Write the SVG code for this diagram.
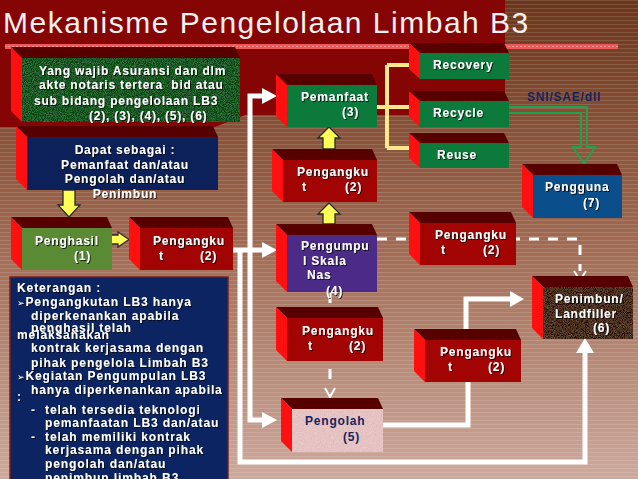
<svg xmlns="http://www.w3.org/2000/svg" width="638" height="479" viewBox="0 0 638 479">
<defs>
<linearGradient id="bg" x1="0" y1="0" x2="0" y2="1">
<stop offset="0" stop-color="#6b361b"/>
<stop offset="0.5" stop-color="#a06a52"/>
<stop offset="1" stop-color="#cda99c"/>
</linearGradient>
<pattern id="stripes" width="8" height="4" patternUnits="userSpaceOnUse">
<rect x="0" y="0" width="8" height="1" fill="#ffffff" opacity="0.13"/>
</pattern>
<pattern id="dots" width="4" height="3" patternUnits="userSpaceOnUse">
<rect x="0" y="1" width="2" height="1" fill="#ffb0b0" opacity="0.7"/>
</pattern>
<filter id="grain" x="0" y="0" width="100%" height="100%">
<feTurbulence type="fractalNoise" baseFrequency="1.1" numOctaves="2" seed="4" result="n"/>
<feColorMatrix in="n" type="matrix" values="0.33 0.33 0.33 0 0 0.33 0.33 0.33 0 0 0.33 0.33 0.33 0 0 0 0 0 0 1" result="g"/>
<feComposite in="SourceGraphic" in2="g" operator="arithmetic" k1="0" k2="1" k3="0.35" k4="-0.175" result="m"/>
<feComposite in="m" in2="SourceAlpha" operator="in"/>
</filter>
<filter id="sh" x="-5%" y="-20%" width="110%" height="140%">
<feDropShadow dx="1" dy="1" stdDeviation="0.3" flood-color="#000" flood-opacity="0.75"/>
</filter>
<style>
.side{fill:#ff1010}
.top{fill:#560000}
.green{fill:#0c7a3a}
.red{fill:#a20303}
.t{font-family:"Liberation Sans",Arial,sans-serif;font-weight:bold;font-size:12px;letter-spacing:0.8px;fill:#ffffff;filter:url(#sh)}
.k{font-family:"Liberation Sans",Arial,sans-serif;font-weight:bold;font-size:12px;letter-spacing:0.9px;fill:#ffffff;filter:url(#sh)}
.nv{fill:#14245e;filter:none}
.wl{fill:none;stroke:#ffffff;stroke-width:5}
.dl{fill:none;stroke:#ffffff;stroke-width:3;stroke-dasharray:10 9}
.ch{fill:none;stroke:#ffffff;stroke-width:2}
.ah{fill:#ffffff}
.ya{fill:#ffff55;stroke:#2a2a2a;stroke-width:1.3}
</style>
</defs>

<!-- background -->
<rect x="0" y="0" width="638" height="479" fill="url(#bg)"/>
<rect x="0" y="0" width="638" height="479" fill="url(#stripes)"/>
<polygon points="0,0 505,0 505,115 245,115 215,127 0,127" fill="#850404"/>

<!-- title -->
<text x="3" y="33" font-family="'Liberation Sans',Arial,sans-serif" font-size="30" letter-spacing="1.5" fill="#f6f0f0">Mekanisme Pengelolaan Limbah B3</text>
<rect x="5" y="44" width="613" height="5" fill="#ee5a5a"/>
<rect x="5" y="44" width="613" height="5" fill="url(#dots)"/>

<!-- connectors -->
<g id="connectors">
<path class="wl" d="M262 96 H250 V420 H262"/>
<polygon class="ah" points="262,88 277,96 262,104"/>
<polygon class="ah" points="262,412 277,420 262,428"/>
<path class="wl" d="M233 250 H262"/>
<polygon class="ah" points="262,242 277,250 262,258"/>
<path class="wl" d="M240 250 V462 H585 V352"/>
<polygon class="ah" points="576,353 585,338 594,353"/>
<path class="wl" d="M383 425 H468 V382"/>
<path class="wl" d="M466 340 V299 H510"/>
<polygon class="ah" points="510,291 524,299 510,307"/>
<path class="dl" d="M377 239 H580 V271"/>
<polyline class="ch" points="574,271 580,280 586,271"/>
<path class="dl" d="M330 293 V386"/>
<polyline class="ch" points="325,388 330,397 335,388"/>
<path d="M509 107 H587 V147 H595 L584 164 L573 147 H581 V113 H509" fill="none" stroke="#1ea34c" stroke-width="2"/>
<path d="M387 65 V148 M387 65 H410 M377 107 H410 M387 148 H410" fill="none" stroke="#ffe98a" stroke-width="4"/>
<polygon class="ya" points="329,127 340,138 335,138 335,149 323,149 323,138 318,138"/>
<polygon class="ya" points="329,203 340,214 335,214 335,224 323,224 323,214 318,214"/>
<polygon class="ya" points="69,217 80,205 75,205 75,190 63,190 63,205 58,205"/>
<polygon class="ya" points="129,239.5 118,232 118,235 106,235 106,244 118,244 118,247"/>
</g>

<text x="527" y="101" class="t nv">SNI/SAE/dll</text>

<!-- nodes -->
<g id="n-wajib">
<polygon class="top" points="11,47 235,47 240,58 22,58"/>
<polygon class="side" points="11,47 22,58 22,122 11,111"/>
<rect x="22" y="58" width="218" height="64" fill="#1e5a2a" filter="url(#grain)"/>
<text class="t" xml:space="preserve"><tspan x="39" y="75">Yang wajib Asuransi dan dlm</tspan><tspan x="39" y="89">akte notaris tertera  bid atau</tspan><tspan x="34" y="105">sub bidang pengelolaan LB3</tspan><tspan x="89" y="120">(2), (3), (4), (5), (6)</tspan></text>
</g>

<g id="n-dapat">
<polygon class="top" points="16,126 213,126 218,137 27,137"/>
<polygon class="side" points="16,126 27,137 27,190 16,179"/>
<rect x="27" y="137" width="191" height="53" fill="#0c2159"/>
<text class="t" text-anchor="middle"><tspan x="125" y="154">Dapat sebagai :</tspan><tspan x="125" y="169">Pemanfaat dan/atau</tspan><tspan x="125" y="183">Pengolah dan/atau</tspan><tspan x="125" y="198">Penimbun</tspan></text>
</g>

<g id="n-penghasil">
<polygon class="top" points="11,217 107,217 112,228 22,228"/>
<polygon class="side" points="11,217 22,228 22,270 11,259"/>
<rect x="22" y="228" width="90" height="42" fill="#5a8a33"/>
<text class="t"><tspan x="35" y="245">Penghasil</tspan><tspan x="74" y="260">(1)</tspan></text>
</g>

<g id="n-angkut1">
<polygon class="top" points="129,217 228,217 233,228 140,228"/>
<polygon class="side" points="129,217 140,228 140,270 129,259"/>
<rect class="red" x="140" y="228" width="93" height="42"/>
<text class="t"><tspan x="153" y="245">Pengangku</tspan><tspan x="159" y="260">t</tspan><tspan x="200" y="260">(2)</tspan></text>
</g>

<g id="n-keterangan">
<rect x="10" y="277" width="218" height="210" fill="#0c2562" stroke="#7a1c1c" stroke-width="1.5"/>
<text class="k" x="17" y="292">Keterangan :</text>
<text class="k" x="17" y="306"><tspan font-size="9" font-family="'DejaVu Sans',sans-serif">➢</tspan>Pengangkutan LB3 hanya</text>
<text class="k" x="31" y="320">diperkenankan apabila</text>
<text class="k" x="31" y="332">penghasil telah</text>
<text class="k" x="17" y="339">melaksanakan</text>
<text class="k" x="31" y="352">kontrak kerjasama dengan</text>
<text class="k" x="31" y="367">pihak pengelola Limbah B3</text>
<text class="k" x="17" y="380"><tspan font-size="9" font-family="'DejaVu Sans',sans-serif">➢</tspan>Kegiatan Pengumpulan LB3</text>
<text class="k" x="31" y="394">hanya diperkenankan apabila</text>
<text class="k" x="17" y="401">:</text>
<text class="k" x="31" y="414">-</text>
<text class="k" x="45" y="414">telah tersedia teknologi</text>
<text class="k" x="45" y="427">pemanfaatan LB3 dan/atau</text>
<text class="k" x="31" y="441">-</text>
<text class="k" x="45" y="441">telah memiliki kontrak</text>
<text class="k" x="45" y="454">kerjasama dengan pihak</text>
<text class="k" x="45" y="468">pengolah dan/atau</text>
<text class="k" x="45" y="482">penimbun limbah B3</text>
</g>

<g id="n-pemanfaat">
<polygon class="top" points="276,74 372,74 377,85 287,85"/>
<polygon class="side" points="276,74 287,85 287,127 276,116"/>
<rect class="green" x="287" y="85" width="90" height="42"/>
<text class="t"><tspan x="301" y="101">Pemanfaat</tspan><tspan x="342" y="116">(3)</tspan></text>
</g>

<g id="n-recovery">
<polygon class="top" points="409,43 504,43 509,53 420,53"/>
<polygon class="side" points="409,43 420,53 420,79 409,69"/>
<rect class="green" x="420" y="53" width="89" height="26"/>
<text class="t" x="433" y="69">Recovery</text>
</g>

<g id="n-recycle">
<polygon class="top" points="409,91 504,91 509,101 420,101"/>
<polygon class="side" points="409,91 420,101 420,127 409,117"/>
<rect class="green" x="420" y="101" width="89" height="26"/>
<text class="t" x="433" y="117">Recycle</text>
</g>

<g id="n-reuse">
<polygon class="top" points="409,133 504,133 509,143 420,143"/>
<polygon class="side" points="409,133 420,143 420,168 409,158"/>
<rect class="green" x="420" y="143" width="89" height="25"/>
<text class="t" x="437" y="159">Reuse</text>
</g>

<g id="n-angkut2">
<polygon class="top" points="272,149 372,149 377,160 283,160"/>
<polygon class="side" points="272,149 283,160 283,202 272,191"/>
<rect class="red" x="283" y="160" width="94" height="42"/>
<text class="t"><tspan x="297" y="176">Pengangku</tspan><tspan x="302" y="191">t</tspan><tspan x="345" y="191">(2)</tspan></text>
</g>

<g id="n-pengguna">
<polygon class="top" points="522,164 617,164 622,175 533,175"/>
<polygon class="side" points="522,164 533,175 533,218 522,207"/>
<rect x="533" y="175" width="89" height="43" fill="#0b4e8c"/>
<text class="t"><tspan x="545" y="191">Pengguna</tspan><tspan x="583" y="207">(7)</tspan></text>
</g>

<g id="n-pengumpul">
<polygon class="top" points="276,224 372,224 377,235 287,235"/>
<polygon class="side" points="276,224 287,235 287,292 276,281"/>
<rect x="287" y="235" width="90" height="57" fill="#4b2a88"/>
<text class="t"><tspan x="301" y="250">Pengumpu</tspan><tspan x="303" y="265">l Skala</tspan><tspan x="307" y="279">Nas</tspan><tspan x="326" y="295">(4)</tspan></text>
</g>

<g id="n-angkut3">
<polygon class="top" points="276,307 378,307 383,318 287,318"/>
<polygon class="side" points="276,307 287,318 287,361 276,350"/>
<rect class="red" x="287" y="318" width="96" height="43"/>
<text class="t"><tspan x="302" y="335">Pengangku</tspan><tspan x="308" y="350">t</tspan><tspan x="349" y="350">(2)</tspan></text>
</g>

<g id="n-pengolah">
<polygon class="top" points="281,398 378,398 383,409 292,409"/>
<polygon class="side" points="281,398 292,409 292,452 281,441"/>
<rect x="292" y="409" width="91" height="43" fill="#e6c3c3" filter="url(#grain)"/>
<text class="t nv"><tspan x="305" y="425">Pengolah</tspan><tspan x="343" y="441">(5)</tspan></text>
</g>

<g id="n-angkut4">
<polygon class="top" points="409,212 511,212 516,223 420,223"/>
<polygon class="side" points="409,212 420,223 420,265 409,254"/>
<rect class="red" x="420" y="223" width="96" height="42"/>
<text class="t"><tspan x="435" y="239">Pengangku</tspan><tspan x="441" y="254">t</tspan><tspan x="483" y="254">(2)</tspan></text>
</g>

<g id="n-angkut5">
<polygon class="top" points="414,329 516,329 521,340 425,340"/>
<polygon class="side" points="414,329 425,340 425,382 414,371"/>
<rect class="red" x="425" y="340" width="96" height="42"/>
<text class="t"><tspan x="440" y="356">Pengangku</tspan><tspan x="448" y="371">t</tspan><tspan x="488" y="371">(2)</tspan></text>
</g>

<g id="n-penimbun">
<polygon class="top" points="532,276 628,276 633,287 543,287"/>
<polygon class="side" points="532,276 543,287 543,339 532,328"/>
<rect x="543" y="287" width="90" height="52" fill="#4a3322" filter="url(#grain)"/>
<text class="t"><tspan x="555" y="303">Penimbun/</tspan><tspan x="555" y="318">Landfiller</tspan><tspan x="593" y="332">(6)</tspan></text>
</g>
</svg>
